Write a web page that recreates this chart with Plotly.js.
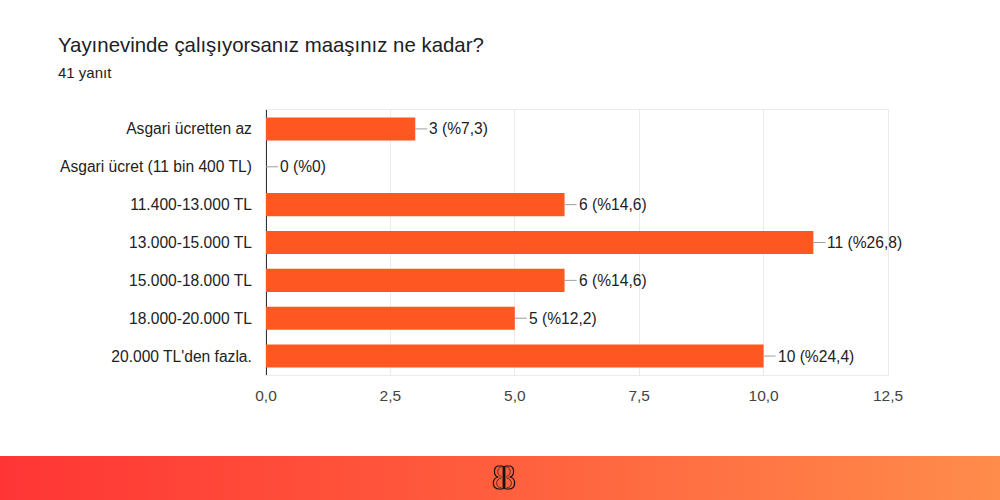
<!DOCTYPE html>
<html>
<head>
<meta charset="utf-8">
<script src="https://cdn.plot.ly/plotly-3.0.1.min.js"></script>
<style>
  html, body { margin: 0; padding: 0; background: #fff; }
  #wrap { position: relative; width: 1000px; height: 500px; overflow: hidden; }
  #chart { position: absolute; left: 0; top: 0; width: 1000px; height: 500px; }
  #banner { position: absolute; left: 0; top: 456px; width: 1000px; height: 44px;
    background: linear-gradient(to right, #ff3535 0%, #ff5a3c 45%, #ff8c4b 100%); }
  #logo { position: absolute; left: 491px; top: 9px; width: 26px; height: 25px; }
</style>
</head>
<body>
<div id="wrap">
  <div id="chart"></div>
  <div id="banner">
    <svg id="logo" viewBox="0 0 26 25" xmlns="http://www.w3.org/2000/svg">
      <g fill="none" stroke="#111" stroke-width="1.2">
        <path d="M14,1 H18 C24,1 24,11.5 18.5,12 C25.5,12.8 25.5,24 18,24 H14"/>
        <path d="M12,1 H8 C2,1 2,11.5 7.5,12 C0.5,12.8 0.5,24 8,24 H12"/>
        <path d="M15.5,2 C20.5,2.5 20.5,10.5 15.5,11.5 M15.5,13 C22,14 22,22.5 15.5,23" stroke-width="0.7"/>
        <path d="M10.5,2 C5.5,2.5 5.5,10.5 10.5,11.5 M10.5,13 C4,14 4,22.5 10.5,23" stroke-width="0.7"/>
      </g>
      <rect x="11.6" y="1" width="2.8" height="23" fill="#111"/>
    </svg>
  </div>
</div>
<script>
const categories = [
  "Asgari ücretten az",
  "Asgari ücret (11 bin 400 TL)",
  "11.400-13.000 TL",
  "13.000-15.000 TL",
  "15.000-18.000 TL",
  "18.000-20.000 TL",
  "20.000 TL'den fazla."
];
const counts = [3, 0, 6, 11, 6, 5, 10];
const percents = ["7,3", "0", "14,6", "26,8", "14,6", "12,2", "24,4"];
const xTicks = [0, 2.5, 5, 7.5, 10, 12.5];
const titleText = "Yayınevinde çalışıyorsanız maaşınız ne kadar?";
const subtitleText = "41 yanıt";

const FONT = "Liberation Sans, Arial, sans-serif";

const trace = {
  type: "bar",
  orientation: "h",
  y: categories,
  x: counts,
  marker: { color: "#ff5722" },
  hoverinfo: "skip"
};

const annotations = categories.map((c, i) => ({
  x: counts[i], y: c, xref: "x", yref: "y",
  text: counts[i] + " (%" + percents[i] + ")",
  showarrow: true, arrowhead: 0, arrowwidth: 1, arrowcolor: "#9e9e9e",
  ax: 12, ay: 0, xanchor: "left", standoff: 0, startstandoff: 0,
  font: { family: FONT, size: 15.6, color: "#222" }
}));

annotations.push({
  xref: "paper", yref: "paper", x: -0.334, y: 1.245, xanchor: "left", yanchor: "middle",
  xshift: -2,
  text: titleText, showarrow: false,
  font: { family: FONT, size: 20.4, color: "#202124" }
});
annotations.push({
  xref: "paper", yref: "paper", x: -0.334, y: 1.143, xanchor: "left", yanchor: "middle",
  xshift: -2,
  text: subtitleText, showarrow: false,
  font: { family: FONT, size: 15, color: "#202124" }
});

const layout = {
  width: 1000, height: 500,
  margin: { l: 266, r: 112, t: 110, b: 125 },
  paper_bgcolor: "#ffffff", plot_bgcolor: "#ffffff",
  showlegend: false,
  bargap: 0.39,
  xaxis: {
    range: [0, 12.5], tickvals: xTicks, tickformat: ".1f",
    showgrid: true, gridcolor: "#ebebeb", gridwidth: 1,
    zeroline: true, zerolinecolor: "#333333", zerolinewidth: 1,
    showline: true, linecolor: "#ebebeb", mirror: true,
    ticks: "", ticklabelstandoff: 6,
    tickfont: { family: FONT, size: 15.5, color: "#444" },
    fixedrange: true
  },
  yaxis: {
    type: "category", autorange: "reversed",
    categoryorder: "array", categoryarray: categories,
    showgrid: false, zeroline: false,
    showline: true, linecolor: "#ebebeb", mirror: true,
    ticks: "", ticklabelstandoff: 10,
    tickfont: { family: FONT, size: 15.6, color: "#222" },
    fixedrange: true
  },
  separators: ",.",
  annotations: annotations,
  font: { family: FONT }
};

Plotly.newPlot("chart", [trace], layout, { displayModeBar: false, staticPlot: true });
</script>
</body>
</html>
